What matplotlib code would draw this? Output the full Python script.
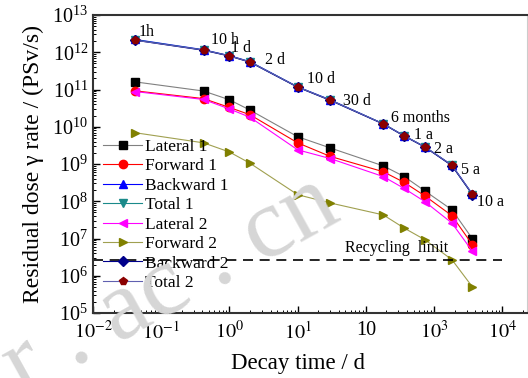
import numpy as np
import matplotlib.pyplot as plt
from matplotlib.ticker import LogLocator, FixedLocator, FixedFormatter, NullFormatter

plt.rcParams['font.family'] = ['Liberation Serif', 'DejaVu Serif']
plt.rcParams['mathtext.fontset'] = 'stix'

# 冷却时间 (d)
t = np.array([1/24, 10/24, 1, 2, 10, 30, 180, 365, 730, 1825, 3650])
t_labels = ['1h', '10 h', '1 d', '2 d', '10 d', '30 d', '6 months', '1 a', '2 a', '5 a', '10 a']

lateral1 = [1.6e11, 9.1e10, 5.3e10, 2.8e10, 5.4e9, 2.7e9, 8.9e8, 4.6e8, 1.9e8, 5.9e7, 9.8e6]
forward1 = [9.2e10, 5.7e10, 3.3e10, 2.1e10, 3.7e9, 1.6e9, 6.2e8, 3.2e8, 1.4e8, 4.1e7, 6.8e6]
backward1 = [2.2e12, 1.17e12, 8.1e11, 5.6e11, 1.18e11, 5.3e10, 1.2e10, 5.7e9, 2.9e9, 9.3e8, 1.55e8]
total1 = [2.15e12, 1.15e12, 8.0e11, 5.5e11, 1.17e11, 5.2e10, 1.2e10, 5.7e9, 2.9e9, 9.2e8, 1.5e8]
lateral2 = [8.8e10, 5.4e10, 3.0e10, 1.8e10, 2.4e9, 1.4e9, 4.6e8, 2.2e8, 9.8e7, 2.6e7, 4.5e6]
forward2 = [6.9e9, 3.7e9, 2.1e9, 1.05e9, 1.5e8, 9.0e7, 4.3e7, 1.9e7, 9.3e6, 2.7e6, 5.0e5]
backward2 = [2.1e12, 1.13e12, 7.9e11, 5.4e11, 1.15e11, 5.1e10, 1.18e10, 5.6e9, 2.85e9, 9.0e8, 1.5e8]
total2 = [2.1e12, 1.15e12, 8.0e11, 5.5e11, 1.17e11, 5.2e10, 1.2e10, 5.7e9, 2.9e9, 9.3e8, 1.55e8]

recycling_limit = 2.7e6

fig = plt.figure(figsize=(5.28, 3.78), dpi=100)
ax = fig.add_axes([93/528, 65/378, 434/528, 298/378])

series = [
    ('Lateral 1', lateral1, 's', 'black', 'gray'),
    ('Forward 1', forward1, 'o', 'red', 'red'),
    ('Backward 1', backward1, '^', 'blue', 'blue'),
    ('Total 1', total1, 'v', '#1a8a8a', '#1a8a8a'),
    ('Lateral 2', lateral2, '<', 'magenta', 'magenta'),
    ('Forward 2', forward2, '>', '#808000', '#a0a050'),
    ('Backward 2', backward2, 'D', '#00008b', '#00008b'),
    ('Total 2', total2, 'p', '#8b0000', '#6060b0'),
]
for name, y, m, c, lc in series:
    ms = 5 if m == 'D' else 6
    ax.plot(t, y, color=lc, lw=0.8, marker=m, markersize=ms,
            markerfacecolor=c, markeredgecolor=c, label=name)

ax.plot([1e-2, 1e4], [recycling_limit, recycling_limit], 'k--', lw=1.2, dashes=(6, 4))
ax.text(2.8e2, recycling_limit * 1.25, 'Recycling  limit', fontsize=11.5, ha='center', va='bottom')

# 时间标注 (像素偏移)
offsets = [(3, 8), (7, 10), (2, 8), (15, 2), (9, 8), (13, -1), (8, 6), (10, 1), (9, -2), (9, -5), (5, -8)]
for xi, yi, lab, off in zip(t, total2, t_labels, offsets):
    ax.annotate(lab, (xi, yi), xytext=off, textcoords='offset pixels',
                fontsize=11.5, ha='left', va='center')

ax.set_xscale('log')
ax.set_yscale('log')
ax.set_xlim(1e-2, 2.3e4)
ax.set_ylim(1e5, 1e13)

xt = [1e-2, 1e-1, 1e0, 1e1, 1e2, 1e3, 1e4]
ax.xaxis.set_major_locator(FixedLocator(xt))
ax.xaxis.set_major_formatter(FixedFormatter(['$10^{-2}$', '$10^{-1}$', '$10^{0}$', '$10^{1}$', '10', '$10^{3}$', '$10^{4}$']))
ax.xaxis.set_minor_locator(LogLocator(base=10, subs=np.arange(2, 10), numticks=20))
ax.xaxis.set_minor_formatter(NullFormatter())
ax.yaxis.set_major_locator(LogLocator(base=10, numticks=20))
ax.yaxis.set_minor_locator(LogLocator(base=10, subs=np.arange(2, 10), numticks=20))
ax.yaxis.set_minor_formatter(NullFormatter())

ax.tick_params(which='both', direction='in', labelsize=14.5, top=False, right=False)
ax.tick_params(which='major', length=5, width=1)
ax.tick_params(which='minor', length=2.5, width=0.7)
ax.tick_params(axis='x', pad=6)

for s in ['left', 'bottom', 'top']:
    ax.spines[s].set_linewidth(1.5)
    ax.spines[s].set_color('#333333')
ax.spines['right'].set_color('#cccccc')
ax.spines['right'].set_linewidth(0.8)

ax.set_xlabel('Decay time / d', fontsize=16.5)
ax.xaxis.set_label_coords(0.472, -0.135)
ax.set_ylabel('Residual dose γ rate / (PSv/s)', fontsize=17, labelpad=6)

ax.legend(loc='upper left', bbox_to_anchor=(0.0, 0.62), frameon=False, fontsize=12.5,
          handlelength=2.2, handletextpad=0.2, labelspacing=0.19, borderaxespad=0.2)

# 水印
fig.text(-0.02, -0.04, 'r . ac . cn', fontsize=72, color='#d6d6d6', rotation=29,
         zorder=0)

fig.savefig('out.png', dpi=100)
